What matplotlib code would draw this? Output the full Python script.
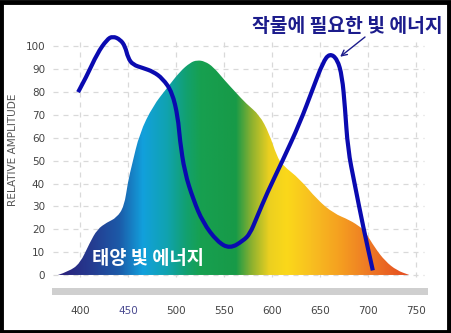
import numpy as np
import matplotlib
matplotlib.use("Agg")
import matplotlib.pyplot as plt
from matplotlib.colors import LinearSegmentedColormap
from matplotlib.patches import PathPatch, Rectangle
from matplotlib.path import Path

# ---- data ----
sun_nm = [377, 388, 400, 410, 418, 428, 438, 446, 450, 454, 462, 476, 491, 504, 515, 522,
          530, 539, 551, 562, 573, 587, 597, 605, 611, 629, 647, 664, 681, 692, 697, 707,
          718, 730, 743]
sun_val = [0, 1.5, 5, 14, 20, 23, 25, 30, 41, 48, 62, 74, 82, 89, 93, 94,
           93.5, 91, 85, 80, 75, 70, 62, 52, 48, 42, 33, 27, 24, 21, 19, 12,
           6, 2, 0]

plant_nm = [398, 407, 418, 428, 434, 442, 447, 450, 455, 466, 476, 486, 496, 502, 504,
            509, 518, 528, 543, 556, 570, 577, 584, 595, 611, 629, 643, 653, 660, 668,
            673, 676, 679, 686, 695, 705]
plant_val = [80, 87, 97, 103, 104.5, 103, 100, 95, 92, 90.5, 89, 86, 80, 69, 59,
             45, 33, 23, 14.6, 11.5, 15, 18, 25, 36, 50, 66.5, 82, 93, 97, 94.5,
             87, 73.5, 55, 40, 21, 2]

x_ticks = [400, 450, 500, 550, 600, 650, 700, 750]
y_ticks = [0, 10, 20, 30, 40, 50, 60, 70, 80, 90, 100]
y_label = "RELATIVE AMPLITUDE"
plant_label = "작물에 필요한 빛 에너지"
sun_label = "태양 빛 에너지"

KR = ["Noto Sans CJK KR", "DejaVu Sans"]


def smooth_path(xs, ys, close=False):
    pts = np.column_stack([xs, ys]).astype(float)
    verts = [pts[0]]
    codes = [Path.MOVETO]
    for i in range(1, len(pts) - 1):
        mid = (pts[i] + pts[i + 1]) / 2
        verts += [pts[i], mid]
        codes += [Path.CURVE3, Path.CURVE3]
    verts.append(pts[-1])
    codes.append(Path.LINETO)
    if close:
        verts.append(pts[0])
        codes.append(Path.CLOSEPOLY)
    return Path(verts, codes)


# ---- figure ----
W, H = 451, 333
fig = plt.figure(figsize=(W / 100, H / 100), dpi=100)
fig.patch.set_facecolor("white")

xl, xr = 370.8, 762.5
yb, yt = -9.2, 110
ax = fig.add_axes([52 / W, (H - 296) / H, (428 - 52) / W, (296 - 23.6) / H])
ax.set_xlim(xl, xr)
ax.set_ylim(yb, yt)
for s in ax.spines.values():
    s.set_visible(False)

# grid
for yv in y_ticks:
    ax.plot([xl + 1, 758], [yv, yv], color="#d9d9d9", lw=0.9, ls=(0, (4, 4)), zorder=1)
for xv in x_ticks:
    ax.plot([xv, xv], [-1, 103], color="#d9d9d9", lw=0.9, ls=(0, (4, 4)), zorder=1)

# gray bar
ax.axhspan(-8.8, -5.6, color="#cfcfcf", zorder=1, lw=0)

# sun spectrum gradient fill
stops = [(377, "#2b1f7a"), (410, "#253a8f"), (440, "#1c5aa8"), (465, "#12a0dc"),
         (490, "#10a3b0"), (510, "#12a070"), (525, "#17a050"), (562, "#179a48"),
         (578, "#8ab030"), (597, "#ecd020"), (615, "#fbd81a"), (640, "#f8c020"),
         (670, "#f5a020"), (700, "#ee7a25"), (743, "#e44a20")]
lo, hi = stops[0][0], stops[-1][0]
cmap = LinearSegmentedColormap.from_list(
    "sun", [((w - lo) / (hi - lo), c) for w, c in stops])
grad = np.linspace(0, 1, 512)[None, :]
im = ax.imshow(grad, cmap=cmap, aspect="auto", extent=[lo, hi, 0, 100],
               origin="lower", zorder=2, interpolation="bilinear")
clip = PathPatch(smooth_path(sun_nm, sun_val, close=True), facecolor="none",
                 edgecolor="none", transform=ax.transData)
ax.add_patch(clip)
im.set_clip_path(clip)

# plant curve
line = PathPatch(smooth_path(plant_nm, plant_val), facecolor="none",
                 edgecolor="#0a0ab0", lw=3.0, zorder=4, transform=ax.transData,
                 joinstyle="round", capstyle="butt")
ax.add_patch(line)

# ticks
ax.set_xticks(x_ticks)
ax.set_xticklabels([str(v) for v in x_ticks])
ax.set_yticks(y_ticks)
ax.set_yticklabels([str(v) for v in y_ticks])
ax.tick_params(axis="both", length=0, labelsize=7.5, labelcolor="#444444")
ax.tick_params(axis="x", pad=7)
ax.tick_params(axis="y", pad=5)
for lab in ax.get_xticklabels():
    if lab.get_text() == "450":
        lab.set_color("#4a4a90")
ax.set_ylabel(y_label, fontsize=7.6, color="#555555")
ax.yaxis.set_label_coords((18 - 52) / 376, (296 - 150) / 272.4)

# annotations
fig.text(443 / W, (H - 27) / H, plant_label, fontsize=13.9, fontweight="bold",
         color="#1c1c8c", family=KR, ha="right", va="center")
ax.annotate("", xy=(671, 95.5), xytext=(365 / W, (H - 37) / H),
            textcoords="figure fraction",
            arrowprops=dict(arrowstyle="->", color="#1c1c8c", lw=1.0,
                            shrinkA=0, shrinkB=0),
            zorder=6, annotation_clip=False)
ax.text(412.5, 7.4, sun_label, fontsize=13.5, fontweight="bold", color="white",
        family=KR, ha="left", va="center", zorder=6)

# black frame
fig.patches.append(Rectangle((0.002, 0.003), 0.994, 0.992, transform=fig.transFigure,
                             fill=False, edgecolor="black", lw=3.5))

fig.savefig("out.png", dpi=100)
